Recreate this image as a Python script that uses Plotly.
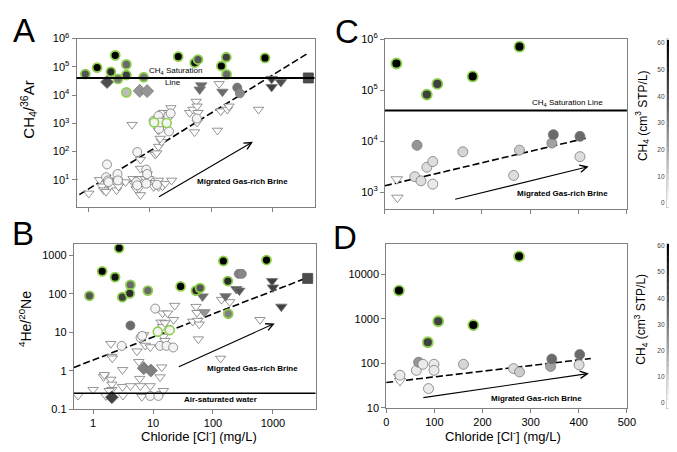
import numpy as np
import plotly.graph_objects as go

# ---------------- data ----------------
# CH4 concentration colour scale (cm3 STP/L)
ch4_ticks = [0, 10, 20, 30, 40, 50, 60]
ch4_levels = [0, 2.5, 5, 7.5, 10, 12.5, 15, 17.5, 20, 22.5, 25, 27.5, 30,
              32.5, 35, 37.5, 40, 42.5, 45, 47.5, 50, 52.5, 55, 57.5, 60]

ch4_saturation = 4.0e4
air_saturated_he_ne = 0.26

# panel A : CH4/36Ar vs chloride
a_tri_x = [0.54, 1.0, 1.5, 1.65, 1.76, 1.92, 2.06, 2.17, 2.85, 2.95, 3.06, 4.0, 5.3, 5.5,
           5.96, 6.6, 6.6, 7.0, 7.0, 7.0, 8.4, 9.0, 9.5, 11.5, 12.2, 13.8, 13.8, 16.0,
           17.7, 22.6, 5.1, 12.2, 12.9, 13.8, 15.5, 14.7, 13.8, 15.2, 15.6, 16.6, 20,
           22, 44.5, 50.5, 53.6, 57, 59, 59, 61, 127, 144, 184, 196, 595, 135]
a_tri_y = [8.8, 3.3, 10, 5.9, 4.3, 3.8, 7.3, 9.5, 4.3, 9.5, 5.9, 8.3, 10.8, 7.3,
           4.7, 10.8, 4.9, 2.9, 25, 52, 10.8, 16, 10.8, 5.6, 7.9, 9.5, 5.6, 5.9,
           7.3, 9.5, 895, 78, 88, 150, 222, 289, 558, 828, 1820, 2370, 2370,
           3500, 2370, 3080, 490, 5900, 4000, 1075, 2370, 558, 2700, 3080, 4000, 3080, 25000]
a_circ_x = [1.99, 1.92, 2.06, 2.1, 2.95, 3.0, 6.2, 5.96, 6.2, 8.7, 9.0, 8.7, 13,
            11.5, 13.8, 14.1, 14.7, 20, 21.8, 20.5, 58.5]
a_circ_y = [35, 12.3, 9.5, 8.3, 16, 9.5, 96, 8.3, 6.4, 23, 16, 7.3, 6.7,
            1230, 1820, 637, 1075, 1820, 2250, 516, 1480]
a_green_open_x = [11.7, 18.8]
a_green_open_y = [1075, 1020]
a_green_x = [0.88, 1.37, 2.71, 2.3, 4.12, 4.12, 3.0, 4.12, 7.9, 29, 54, 61, 147, 177, 179, 760]
a_green_y = [55500, 94000, 255000, 66700, 122000, 51300, 37400, 12400, 42700,
             230000, 139000, 181000, 107000, 218000, 54000, 207000]
a_green_ch4 = [40, 60, 60, 50, 35, 45, 32, 16, 32, 60, 55, 40, 60, 45, 35, 60]
a_diam_x = [1.99, 6.8, 9.0]
a_diam_y = [28800, 14100, 13800]
a_diam_ch4 = [42, 25, 25]
a_ftri_x = [69, 65, 153, 975, 975, 1380]
a_ftri_y = [22100, 15700, 13100, 37400, 19400, 28800]
a_ftri_ch4 = [35, 35, 35, 45, 45, 42]
a_gcirc_x = [267, 295]
a_gcirc_y = [18400, 11500]
a_gcirc_ch4 = [33, 28]
a_sq_x = [3880]
a_sq_y = [40400]
a_sq_ch4 = [42]
a_trend_x = [0.51, 3980]
a_trend_y = [1.95, 3.2e5]
a_arrow_x = [13.3, 482]
a_arrow_y = [2.35, 222]

# panel B : 4He/20Ne vs chloride
b_tri_x = [0.56, 1.0, 1.5, 1.54, 1.98, 2.06, 2.06, 1.86, 1.64, 1.98, 2.04, 2.1, 3.1, 3.1,
           3.16, 4.2, 5.4, 6.0, 5.8, 6.15, 6.5, 7.0, 7.4, 9.0, 9.0, 14, 13.1, 14.9,
           14.4, 17.5, 13.6, 14.4, 15.8, 14.9, 15.8, 16.8, 23, 22, 46, 52, 54, 56,
           59, 57, 139, 190, 134, 608]
b_tri_y = [0.225, 0.32, 0.69, 0.78, 0.59, 0.44, 0.32, 0.30, 0.22, 5.0, 2.3, 2.1, 1.05, 0.38,
           0.225, 0.40, 3.2, 0.62, 1.7, 0.40, 0.21, 8.5, 4.5, 4.1, 0.40, 1.23, 0.68, 0.30,
           31, 31, 18, 13.7, 17.3, 7.7, 6.0, 4.5, 49, 21, 19, 46, 32, 20,
           16, 6.6, 70, 61, 2.07, 21]
b_circ_x = [10.9, 3.0, 6.2, 6.6, 13.1, 16.8, 21.7, 9.0, 12.3]
b_circ_y = [41, 4.4, 7.2, 8.0, 4.4, 4.4, 4.0, 0.22, 0.22]
b_green_open_x = [12, 19]
b_green_open_y = [10.3, 11.3]
b_green_x = [0.87, 1.42, 2.72, 2.33, 3.08, 4.2, 4.1, 8.2, 28.9, 52, 61, 149, 177, 180, 782]
b_green_y = [88, 381, 1530, 269, 81, 169, 102, 120, 154, 120, 140, 706, 213, 30, 748]
b_green_ch4 = [40, 60, 60, 55, 45, 35, 50, 35, 60, 50, 40, 60, 50, 30, 60]
b_gcirc_x = [4.2, 269, 303]
b_gcirc_y = [14.9, 327, 327]
b_gcirc_ch4 = [35, 30, 28]
b_diam_x = [7.0, 9.2, 2.06]
b_diam_y = [1.16, 1.01, 0.204]
b_diam_ch4 = [30, 30, 45]
b_ftri_x = [67, 72, 162, 245, 275, 967, 1000, 1380]
b_ftri_y = [85, 33, 86, 132, 120, 214, 145, 46]
b_ftri_ch4 = [35, 25, 35, 40, 40, 45, 45, 45]
b_sq_x = [3800]
b_sq_y = [249]
b_sq_ch4 = [42]
b_trend_x = [0.48, 4440]
b_trend_y = [1.21, 288]
b_arrow_x = [25.5, 1070]
b_arrow_y = [1.21, 16.9]

# panel C : CH4/36Ar vs chloride (linear x)
c_green_x = [23.7, 86.6, 108.3, 181.3, 278]
c_green_y = [334000, 82000, 133000, 186000, 714000]
c_green_ch4 = [60, 45, 45, 60, 60]
c_circ_x = [66.3, 61.6, 74.4, 86.6, 98.8, 98.8, 161, 266, 278, 345, 348, 403, 403]
c_circ_y = [8260, 2000, 1660, 3060, 3980, 1430, 6170, 2120, 6640, 9160, 13400, 12400, 4950]
c_circ_ch4 = [25, 8, 8, 8, 8, 5, 10, 8, 12, 22, 35, 35, 8]
c_tri_x = [24.4, 25.7]
c_tri_y = [1780, 775]
c_trend_x = [0, 415]
c_trend_y = [1330, 11400]
c_arrow_x = [142, 421]
c_arrow_y = [708, 3160]

# panel D : 4He/20Ne vs chloride (linear x)
d_green_x = [26.5, 86.4, 108, 181, 276]
d_green_y = [4330, 298, 884, 723, 25500]
d_green_ch4 = [60, 45, 45, 60, 60]
d_circ_x = [28.6, 62.6, 67.3, 76.2, 99.3, 99.3, 87.8, 160.5, 264.6, 276.9, 341.5, 344, 402, 400.7]
d_circ_y = [54, 69.5, 106, 95, 95, 69.5, 27, 95, 76, 64, 85, 125, 158, 92.5]
d_circ_ch4 = [5, 5, 25, 5, 5, 5, 5, 10, 8, 12, 22, 35, 35, 8]
d_tri_x = [26.5, 28.6]
d_tri_y = [50, 40]
d_trend_x = [0, 425]
d_trend_y = [37, 128]
d_arrow_x = [74, 421]
d_arrow_y = [16.7, 59]

# ---------------- styling ----------------
FONT = "Liberation Sans, Arial, sans-serif"
GRAY = [[0, "#ffffff"], [1, "#000000"]]
GREEN = "#8fd14f"
OUTLINE = "#7a7a7a"

fig = go.Figure()


def pts(xa, ya, x, y, color, symbol="circle", size=9, lc=OUTLINE, lw=0.8):
    marker = dict(symbol=symbol, size=size, line=dict(color=lc, width=lw))
    if isinstance(color, list):
        marker.update(color=color, cmin=0, cmax=60, colorscale=GRAY)
    else:
        marker.update(color=color)
    fig.add_trace(go.Scatter(x=x, y=y, mode="markers", xaxis=xa, yaxis=ya,
                             marker=marker, showlegend=False))


def trend(xa, ya, x, y):
    fig.add_trace(go.Scatter(x=x, y=y, mode="lines", xaxis=xa, yaxis=ya,
                             line=dict(color="black", width=1.6, dash="7px,3px"),
                             showlegend=False, hoverinfo="skip"))


# panel A
trend("x", "y", a_trend_x, a_trend_y)
pts("x", "y", a_tri_x, a_tri_y, "white", "triangle-down", 9)
pts("x", "y", a_circ_x, a_circ_y, "#f4f4f4", "circle", 9)
pts("x", "y", a_green_open_x, a_green_open_y, "#f4f4f4", "circle", 9, GREEN, 1.6)
pts("x", "y", a_diam_x, a_diam_y, a_diam_ch4, "diamond", 10)
pts("x", "y", a_ftri_x, a_ftri_y, a_ftri_ch4, "triangle-down", 10)
pts("x", "y", a_gcirc_x, a_gcirc_y, a_gcirc_ch4, "circle", 9)
pts("x", "y", a_sq_x, a_sq_y, a_sq_ch4, "square", 10, "#444444", 0.8)
pts("x", "y", a_green_x, a_green_y, a_green_ch4, "circle", 9, GREEN, 1.8)

# panel B
trend("x2", "y2", b_trend_x, b_trend_y)
pts("x2", "y2", b_tri_x, b_tri_y, "white", "triangle-down", 9)
pts("x2", "y2", b_circ_x, b_circ_y, "#f4f4f4", "circle", 9)
pts("x2", "y2", b_green_open_x, b_green_open_y, "#f4f4f4", "circle", 9, GREEN, 1.6)
pts("x2", "y2", b_diam_x, b_diam_y, b_diam_ch4, "diamond", 10)
pts("x2", "y2", b_ftri_x, b_ftri_y, b_ftri_ch4, "triangle-down", 10)
pts("x2", "y2", b_gcirc_x, b_gcirc_y, b_gcirc_ch4, "circle", 9)
pts("x2", "y2", b_sq_x, b_sq_y, b_sq_ch4, "square", 10, "#444444", 0.8)
pts("x2", "y2", b_green_x, b_green_y, b_green_ch4, "circle", 9, GREEN, 1.8)

# panel C
trend("x3", "y3", c_trend_x, c_trend_y)
pts("x3", "y3", c_tri_x, c_tri_y, "white", "triangle-down", 10)
pts("x3", "y3", c_circ_x, c_circ_y, c_circ_ch4, "circle", 10)
pts("x3", "y3", c_green_x, c_green_y, c_green_ch4, "circle", 10, GREEN, 1.8)

# panel D
trend("x4", "y4", d_trend_x, d_trend_y)
pts("x4", "y4", d_tri_x, d_tri_y, "white", "triangle-down", 10)
pts("x4", "y4", d_circ_x, d_circ_y, d_circ_ch4, "circle", 10)
pts("x4", "y4", d_green_x, d_green_y, d_green_ch4, "circle", 10, GREEN, 1.8)

# colour bars drawn as stepped strips so the labels can sit on the left
for xa, ya in [("x5", "y5"), ("x6", "y6")]:
    fig.add_trace(go.Heatmap(x=[0], y=ch4_levels, z=[[v] for v in ch4_levels],
                             xaxis=xa, yaxis=ya, colorscale=GRAY, zmin=0, zmax=60,
                             showscale=False, hoverinfo="skip"))

# horizontal reference lines
for xa, ya, val, w in [("x", "y", ch4_saturation, 2), ("x3", "y3", ch4_saturation, 2),
                       ("x2", "y2", air_saturated_he_ne, 1.5)]:
    fig.add_shape(type="line", xref=xa + " domain", yref=ya, x0=0, x1=1, y0=val, y1=val,
                  line=dict(color="black", width=w))

ax_common = dict(showline=True, linecolor="#808080", linewidth=1, mirror=True,
                 ticks="outside", ticklen=4, tickcolor="#808080", showgrid=False,
                 zeroline=False, tickfont=dict(family=FONT, size=11, color="black"))


def W(a, b):
    return [a / 677, b / 677]


def H(top, bottom):
    return [1 - bottom / 452, 1 - top / 452]


sup = lambda n: "10<sup>%d</sup>" % n

fig.update_layout(
    width=677, height=452, margin=dict(l=0, r=0, t=0, b=0),
    paper_bgcolor="white", plot_bgcolor="white", showlegend=False,
    font=dict(family=FONT, color="black"),
    xaxis=dict(ax_common, type="log", domain=W(66.7, 309), range=[-0.2, 3.69],
               tickvals=[1, 10, 100, 1000], showticklabels=False, anchor="y"),
    yaxis=dict(ax_common, type="log", domain=H(23.3, 197), range=[0.04, 6],
               tickvals=[10, 1e2, 1e3, 1e4, 1e5, 1e6],
               ticktext=[sup(n) for n in range(1, 7)], anchor="x"),
    xaxis2=dict(ax_common, type="log", domain=W(64, 310), range=[-0.32, 3.71],
                tickvals=[1, 10, 100, 1000], ticktext=["1", "10", "100", "1000"], anchor="y2"),
    yaxis2=dict(ax_common, type="log", domain=H(235.7, 405.7), range=[-1, 3.28],
                tickvals=[0.1, 1, 10, 100, 1000],
                ticktext=["0.1", "1", "10", "100", "1000"], anchor="x2"),
    xaxis3=dict(ax_common, domain=W(380.7, 627), range=[0, 500],
                tickvals=[0, 100, 200, 300, 400, 500], showticklabels=False, anchor="y3"),
    yaxis3=dict(ax_common, type="log", domain=H(24, 199), range=[2.67, 6],
                tickvals=[1e3, 1e4, 1e5, 1e6], ticktext=[sup(n) for n in range(3, 7)],
                anchor="x3"),
    xaxis4=dict(ax_common, domain=W(382, 627), range=[0, 500],
                tickvals=[0, 100, 200, 300, 400, 500], anchor="y4"),
    yaxis4=dict(ax_common, type="log", domain=H(235, 404.3), range=[1, 4.69],
                tickvals=[10, 100, 1000, 10000],
                ticktext=["10", "100", "1000", "10000"], anchor="x4"),
    xaxis5=dict(domain=W(667.7, 675.5), range=[-0.5, 0.5], showticklabels=False,
                showline=True, mirror=True, linecolor="#d0d0d0", ticks="", showgrid=False,
                zeroline=False, anchor="y5"),
    yaxis5=dict(domain=H(24, 197), range=[-1.45, 61.45], tickvals=ch4_ticks,
                showline=True, mirror=True, linecolor="#d0d0d0", ticks="", showgrid=False,
                zeroline=False, tickfont=dict(family=FONT, size=6.5, color="#444"), anchor="x5"),
    xaxis6=dict(domain=W(667.7, 675.5), range=[-0.5, 0.5], showticklabels=False,
                showline=True, mirror=True, linecolor="#d0d0d0", ticks="", showgrid=False,
                zeroline=False, anchor="y6"),
    yaxis6=dict(domain=H(235, 405), range=[-2.1, 60.85], tickvals=ch4_ticks,
                showline=True, mirror=True, linecolor="#d0d0d0", ticks="", showgrid=False,
                zeroline=False, tickfont=dict(family=FONT, size=6.5, color="#444"), anchor="x6"),
)

ann = []


def note(text, x, y, size, bold=False, **kw):
    ann.append(dict(text="<b>%s</b>" % text if bold else text, x=x, y=y, showarrow=False,
                    font=dict(family=FONT, size=size, color="black"),
                    xanchor="center", yanchor="middle", **kw))


lg = np.log10
# panel text
note("CH<sub>4</sub> Saturation", 1.413, 4.846, 8, xref="x", yref="y")
note("Line", 1.38, 4.435, 8, xref="x", yref="y")
note("Migrated Gas-rich Brine", 2.506, 0.942, 8, True, xref="x", yref="y")
note("Migrated Gas-rich Brine", 2.664, 0.043, 8, True, xref="x2", yref="y2")
note("Air-saturated water", 2.123, -0.756, 8, True, xref="x2", yref="y2")
note("CH<sub>4</sub> Saturation Line", 377.6, 4.756, 8, xref="x3", yref="y3")
note("Migrated Gas-rich Brine", 367.4, 2.971, 8, True, xref="x3", yref="y3")
note("Migrated Gas-rich Brine", 312, 1.203, 8, True, xref="x4", yref="y4")

# axis titles and panel letters (paper coordinates)
note("CH<sub>4</sub>/<sup>36</sup>Ar", 18 / 677, 1 - 97 / 452, 15, xref="paper", yref="paper", textangle=-90)
note("<sup>4</sup>He/<sup>20</sup>Ne", 15 / 677, 1 - 313 / 452, 14,
     xref="paper", yref="paper", textangle=-90)
note("Chloride [Cl<sup>-</sup>] (mg/L)", 191.7 / 677, 1 - 433 / 452, 13, xref="paper", yref="paper")
note("Chloride [Cl<sup>-</sup>] (mg/L)", 500.8 / 677, 1 - 433 / 452, 13, xref="paper", yref="paper")
note("CH<sub>4</sub> (cm<sup>3</sup> STP/L)", 642.7 / 677, 1 - 103 / 452, 12,
     xref="paper", yref="paper", textangle=-90)
note("CH<sub>4</sub> (cm<sup>3</sup> STP/L)", 641.7 / 677, 1 - 313 / 452, 12,
     xref="paper", yref="paper", textangle=-90)
for letter, px, py in [("A", 13.5, 15), ("B", 12, 224), ("C", 342, 16), ("D", 340, 229)]:
    note(letter, px / 677, 1 - py / 452, 33, xref="paper", yref="paper")

# arrows
for xa, ya, xs, ys, logx in [("x", "y", a_arrow_x, a_arrow_y, True),
                             ("x2", "y2", b_arrow_x, b_arrow_y, True),
                             ("x3", "y3", c_arrow_x, c_arrow_y, False),
                             ("x4", "y4", d_arrow_x, d_arrow_y, False)]:
    fx = lg if logx else (lambda v: v)
    ann.append(dict(x=fx(xs[1]), y=lg(ys[1]), ax=fx(xs[0]), ay=lg(ys[0]),
                    xref=xa, yref=ya, axref=xa, ayref=ya, showarrow=True, text="",
                    arrowhead=5, arrowsize=1.3, arrowwidth=1.1, arrowcolor="black"))

fig.update_layout(annotations=ann)
fig.write_html("out.html")
